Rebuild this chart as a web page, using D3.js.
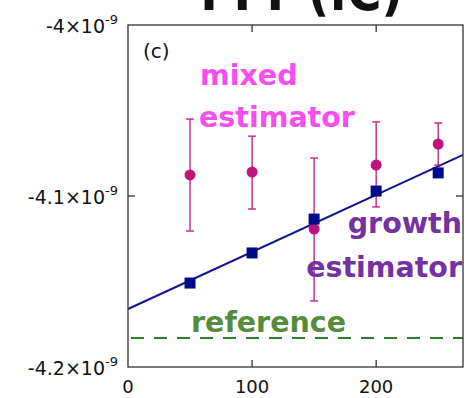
<!DOCTYPE html>
<html>
<head>
<meta charset="utf-8">
<script src="https://cdn.jsdelivr.net/npm/d3@7"></script>
<style>
  body { margin: 0; background: #fff; }
  text { font-family: "DejaVu Sans", sans-serif; }
</style>
</head>
<body>
<div id="chart"></div>
<script>
// values in units of 1e-9
const steps = [50, 100, 150, 200, 250]
const growthValues = [-4.1509, -4.1333, -4.1135, -4.0971, -4.0865]
const growthErr = [0.002, 0.0015, 0.0015, 0.0015, 0.002]
const mixedValues = [-4.0877, -4.0860, -4.1193, -4.0819, -4.0696]
const mixedLow = [-4.1205, -4.1076, -4.1614, -4.1064, -4.0819]
const mixedHigh = [-4.0550, -4.0650, -4.0778, -4.0567, -4.0573]
const fitLine = [[0, -4.1661], [270, -4.0760]]
const referenceValue = -4.1830
const xTicks = [0, 100, 200]
const yTicks = [-4.2, -4.1, -4.0]
const yTickText = ['-4.2', '-4.1', '-4']

const width = 465
const height = 398
const margin = { top: 25, bottom: 31, left: 128, right: 2 }

const svg = d3.select('#chart').append('svg')
    .attr('width', width)
    .attr('height', height)

const x = d3.scaleLinear()
    .domain([0, 270])
    .range([margin.left, width - margin.right])

const y = d3.scaleLinear()
    .domain([-4.2, -4.0])
    .range([height - margin.bottom, margin.top])

// clipped heading left over from the page above
svg.append('text')
    .attr('x', 193)
    .attr('y', 10)
    .attr('font-size', 54)
    .attr('font-weight', 'bold')
    .attr('textLength', 210)
    .attr('lengthAdjust', 'spacingAndGlyphs')
    .attr('fill', '#111')
    .text('TTT (.C)')

// frame ticks
const tickLen = 7
const frame = svg.append('g').attr('stroke', '#333').attr('stroke-width', 1.3)
xTicks.filter(d => d > 0).forEach(d => {
    frame.append('line').attr('x1', x(d)).attr('x2', x(d))
        .attr('y1', y.range()[1]).attr('y2', y.range()[1] + tickLen)
    frame.append('line').attr('x1', x(d)).attr('x2', x(d))
        .attr('y1', y.range()[0]).attr('y2', y.range()[0] - tickLen)
})
yTicks.filter(d => d > -4.2 && d < -4.0).forEach(d => {
    frame.append('line').attr('x1', x.range()[0]).attr('x2', x.range()[0] + tickLen)
        .attr('y1', y(d)).attr('y2', y(d))
    frame.append('line').attr('x1', x.range()[1]).attr('x2', x.range()[1] - tickLen)
        .attr('y1', y(d)).attr('y2', y(d))
})

// x tick labels
svg.append('g').selectAll('text').data(xTicks).enter().append('text')
    .attr('x', d => x(d))
    .attr('y', y.range()[0] + 26)
    .attr('text-anchor', 'middle')
    .attr('font-size', 18)
    .attr('fill', '#111')
    .text(d => d)

// y tick labels
const yLabel = svg.append('g').selectAll('text').data(yTicks).enter().append('text')
    .attr('x', 118)
    .attr('y', d => y(d) + 8)
    .attr('text-anchor', 'end')
    .attr('font-size', 19)
    .attr('fill', '#111')
yLabel.append('tspan').text((d, i) => `${yTickText[i]}×10`)
yLabel.append('tspan').attr('font-size', 13).attr('dy', -9).text('-9')

// reference line
svg.append('line')
    .attr('x1', x(0)).attr('x2', x(270))
    .attr('y1', y(referenceValue)).attr('y2', y(referenceValue))
    .attr('stroke', '#2e7d2e')
    .attr('stroke-width', 2)
    .attr('stroke-dasharray', '13,10')
    .attr('stroke-dashoffset', -3)

// fit line
svg.append('line')
    .attr('x1', x(fitLine[0][0])).attr('y1', y(fitLine[0][1]))
    .attr('x2', x(fitLine[1][0])).attr('y2', y(fitLine[1][1]))
    .attr('stroke', '#10148f')
    .attr('stroke-width', 2)

// mixed estimator error bars and points
const magenta = '#c0137e'
const mixed = steps.map((s, i) => ({ s, v: mixedValues[i], lo: mixedLow[i], hi: mixedHigh[i] }))
const mixedGroup = svg.append('g').selectAll('g').data(mixed).enter().append('g')
mixedGroup.append('line')
    .attr('x1', d => x(d.s)).attr('x2', d => x(d.s))
    .attr('y1', d => y(d.lo)).attr('y2', d => y(d.hi))
    .attr('stroke', magenta).attr('stroke-width', 1.3)
mixedGroup.append('line')
    .attr('x1', d => x(d.s) - 4).attr('x2', d => x(d.s) + 4)
    .attr('y1', d => y(d.hi)).attr('y2', d => y(d.hi))
    .attr('stroke', magenta).attr('stroke-width', 1.3)
mixedGroup.append('line')
    .attr('x1', d => x(d.s) - 4).attr('x2', d => x(d.s) + 4)
    .attr('y1', d => y(d.lo)).attr('y2', d => y(d.lo))
    .attr('stroke', magenta).attr('stroke-width', 1.3)

// growth estimator squares
const growth = steps.map((s, i) => ({ s, v: growthValues[i], e: growthErr[i] }))
const growthGroup = svg.append('g').selectAll('g').data(growth).enter().append('g')
growthGroup.append('line')
    .attr('x1', d => x(d.s)).attr('x2', d => x(d.s))
    .attr('y1', d => y(d.v - d.e)).attr('y2', d => y(d.v + d.e))
    .attr('stroke', '#10148f').attr('stroke-width', 1.3)
growthGroup.append('rect')
    .attr('x', d => x(d.s) - 5.5)
    .attr('y', d => y(d.v) - 5.5)
    .attr('width', 11).attr('height', 11)
    .attr('fill', '#000a8a')

mixedGroup.append('circle')
    .attr('cx', d => x(d.s))
    .attr('cy', d => y(d.v))
    .attr('r', 5.5)
    .attr('fill', magenta)

// frame
svg.append('rect')
    .attr('x', x.range()[0]).attr('y', y.range()[1])
    .attr('width', x.range()[1] - x.range()[0])
    .attr('height', y.range()[0] - y.range()[1])
    .attr('fill', 'none')
    .attr('stroke', '#333')
    .attr('stroke-width', 1.3)

// annotations
svg.append('text')
    .attr('x', 143).attr('y', 58)
    .attr('font-size', 20)
    .attr('fill', '#111')
    .text('(c)')

const label = (txt, xPos, yPos, color, anchor) => svg.append('text')
    .attr('x', xPos).attr('y', yPos)
    .attr('text-anchor', anchor)
    .attr('font-size', 28.5)
    .attr('font-weight', 'bold')
    .attr('fill', color)
    .text(txt)

label('mixed', 200, 85, '#f84ef0', 'start')
label('estimator', 199, 127, '#f84ef0', 'start')
label('growth', 462, 233, '#7431a1', 'end')
label('estimator', 462, 277, '#7431a1', 'end')
label('reference', 191, 332, '#558b3a', 'start')
</script>
</body>
</html>
